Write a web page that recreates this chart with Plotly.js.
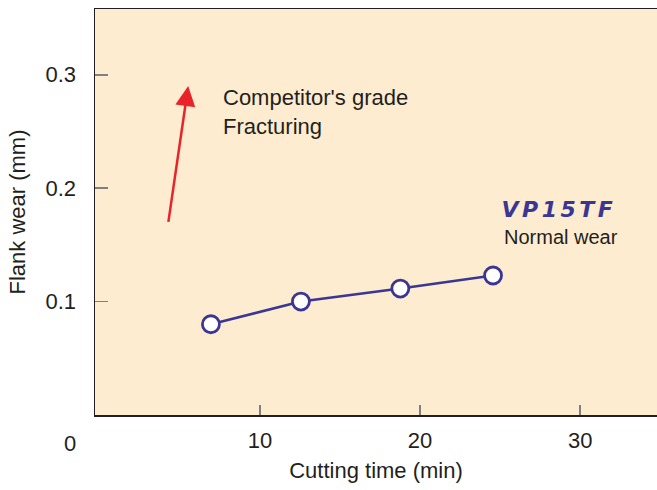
<!DOCTYPE html>
<html>
<head>
<meta charset="utf-8">
<script src="https://cdn.plot.ly/plotly-3.0.1.min.js"></script>
<style>html,body{margin:0;padding:0;background:#fff;}#chart{width:657px;height:490px;}</style>
</head>
<body>
<div id="chart"></div>
<script>
// Data
const cuttingTime = [6.94, 12.56, 18.77, 24.56];
const flankWear = [0.080, 0.100, 0.1115, 0.123];
const xTicks = [10, 20, 30];
const yTicks = [0.1, 0.2, 0.3];
const yTickLabels = ['0.1', '0.2', '0.3'];
const arrowTail = [4.27, 0.169];
const arrowTip = [5.52, 0.290];

const textColor = '#231f20';
const blue = '#3b3594';
const font = 'Liberation Sans, Arial, Helvetica, sans-serif';

const trace = {
  x: cuttingTime,
  y: flankWear,
  type: 'scatter',
  mode: 'lines+markers',
  line: {color: blue, width: 2.5},
  marker: {size: 17, color: '#ffffff', line: {color: blue, width: 2.8}},
  hoverinfo: 'skip',
  showlegend: false
};

const layout = {
  width: 657,
  height: 490,
  margin: {l: 95, r: 0, t: 9, b: 75},
  paper_bgcolor: '#ffffff',
  plot_bgcolor: '#fdeccf',
  font: {family: font, size: 22, color: textColor},
  xaxis: {
    range: [-0.3, 34.8],
    tickvals: xTicks,
    ticktext: xTicks.map(String),
    ticks: 'inside',
    ticklen: 10,
    tickwidth: 1.5,
    tickcolor: '#808080',
    ticklabelstandoff: 5,
    showgrid: false,
    zeroline: false,
    showline: true,
    mirror: true,
    linecolor: textColor,
    linewidth: 1.5,
    tickfont: {size: 22, color: textColor},
    title: {text: 'Cutting time (min)', font: {size: 22, color: textColor}, standoff: 10}
  },
  yaxis: {
    range: [0, 0.358],
    tickvals: yTicks,
    ticktext: yTickLabels,
    ticks: 'inside',
    ticklen: 13,
    tickwidth: 1.5,
    tickcolor: '#808080',
    ticklabelstandoff: 13,
    showgrid: false,
    zeroline: false,
    showline: true,
    linecolor: textColor,
    linewidth: 1.5,
    tickfont: {size: 22, color: textColor},
    title: {text: 'Flank wear (mm)', font: {size: 22, color: textColor}, standoff: 14}
  },
  annotations: [
    {
      xref: 'x', yref: 'paper', x: 0, y: 0, xanchor: 'center', yanchor: 'top',
      xshift: -30, yshift: -14, text: '0', showarrow: false,
      font: {size: 22, color: textColor}
    },
    {
      xref: 'x', yref: 'y', x: arrowTip[0], y: arrowTip[1],
      axref: 'x', ayref: 'y', ax: arrowTail[0], ay: arrowTail[1],
      text: '', showarrow: true, arrowhead: 2, arrowsize: 1.6, arrowwidth: 2.5,
      arrowcolor: '#e8232a', standoff: 0
    },
    {
      xref: 'x', yref: 'y', x: 7.56, y: 0.267, xanchor: 'left', yanchor: 'middle',
      align: 'left', text: "Competitor's grade<br>Fracturing", showarrow: false,
      font: {size: 22, color: textColor}
    },
    {
      xref: 'x', yref: 'y', x: 25.125, y: 0.181, xanchor: 'left', yanchor: 'middle',
      xshift: 8, text: 'VP15TF', showarrow: false,
      font: {family: 'DejaVu Sans, sans-serif', size: 22, color: blue, weight: 'bold', style: 'italic'}
    },
    {
      xref: 'x', yref: 'y', x: 25.125, y: 0.157, xanchor: 'left', yanchor: 'middle',
      text: 'Normal wear', showarrow: false,
      font: {size: 20, color: textColor}
    }
  ]
};

Plotly.newPlot('chart', [trace], layout, {displayModeBar: false, staticPlot: true}).then(function () {
  document.querySelectorAll('.annotation-text').forEach(function (t) {
    if (t.textContent === 'VP15TF') {
      t.setAttribute('letter-spacing', '3.5px');
    }
  });
});
</script>
</body>
</html>
